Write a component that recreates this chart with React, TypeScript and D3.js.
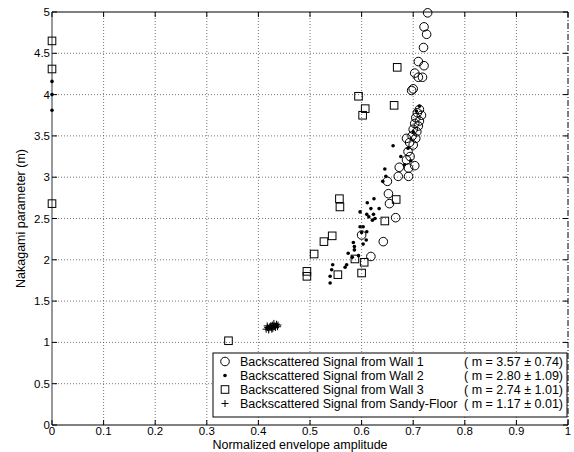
import React from "react";
import * as d3 from "d3";

const xTicks = [0, 0.1, 0.2, 0.3, 0.4, 0.5, 0.6, 0.7, 0.8, 0.9, 1];
const yTicks = [0, 0.5, 1, 1.5, 2, 2.5, 3, 3.5, 4, 4.5, 5];

const wall1: [number, number][] = [
  [0.728, 4.99], [0.721, 4.82], [0.726, 4.73], [0.72, 4.57], [0.71, 4.4], [0.721, 4.35],
  [0.703, 4.26], [0.71, 4.21], [0.718, 4.21], [0.7, 4.07], [0.697, 4.05],
  [0.712, 3.82], [0.716, 3.75], [0.708, 3.78], [0.705, 3.72], [0.712, 3.68], [0.703, 3.65],
  [0.71, 3.62], [0.7, 3.58], [0.707, 3.55], [0.698, 3.5], [0.705, 3.47], [0.687, 3.47],
  [0.7, 3.39], [0.693, 3.42], [0.69, 3.31], [0.694, 3.25], [0.687, 3.21], [0.703, 3.14],
  [0.673, 3.12], [0.691, 3.11], [0.671, 3.01], [0.691, 3.01], [0.65, 2.95], [0.652, 2.8],
  [0.654, 2.68], [0.666, 2.51], [0.642, 2.22], [0.6, 2.3], [0.618, 2.04],
];

const wall2: [number, number][] = [
  [0, 4.16], [0, 4.0], [0, 3.81], [0.712, 3.86], [0.706, 3.8], [0.7, 3.55], [0.661, 3.38],
  [0.676, 3.25], [0.645, 3.1], [0.647, 3.01], [0.641, 2.95], [0.624, 2.74], [0.611, 2.69],
  [0.618, 2.62], [0.634, 2.62], [0.597, 2.58], [0.61, 2.55], [0.623, 2.55], [0.614, 2.52],
  [0.626, 2.5], [0.621, 2.48], [0.603, 2.4], [0.597, 2.4], [0.61, 2.34], [0.6, 2.33],
  [0.609, 2.24], [0.603, 2.19], [0.584, 2.21], [0.586, 2.16], [0.586, 2.12], [0.574, 2.08],
  [0.594, 2.05], [0.582, 2.03], [0.571, 1.94], [0.568, 1.91], [0.544, 1.94], [0.542, 1.88],
  [0.539, 1.8], [0.539, 1.72], [0.69, 3.35], [0.695, 3.2], [0.683, 3.15],
];

const wall3: [number, number][] = [
  [0, 4.65], [0, 4.31], [0, 2.68], [0.669, 4.33], [0.594, 3.98], [0.663, 3.87], [0.607, 3.83],
  [0.602, 3.75], [0.557, 2.74], [0.558, 2.64], [0.667, 2.73], [0.645, 2.47], [0.543, 2.29],
  [0.527, 2.22], [0.508, 2.07], [0.494, 1.86], [0.494, 1.8], [0.554, 1.82], [0.6, 1.84],
  [0.605, 1.97], [0.587, 2.01], [0.342, 1.02],
];

const sandy: [number, number][] = [
  [0.415, 1.16], [0.418, 1.18], [0.42, 1.17], [0.422, 1.19], [0.424, 1.2], [0.425, 1.18],
  [0.427, 1.21], [0.428, 1.17], [0.43, 1.19], [0.432, 1.2], [0.433, 1.18], [0.435, 1.22],
  [0.437, 1.19], [0.42, 1.15], [0.426, 1.16], [0.43, 1.23], [0.438, 1.21], [0.417, 1.2],
];

const legendLabels = [
  "Backscattered Signal from Wall 1",
  "Backscattered Signal from Wall 2",
  "Backscattered Signal from Wall 3",
  "Backscattered Signal from Sandy-Floor",
];
const legendStats = [
  "( m = 3.57 \u00b1 0.74)",
  "( m = 2.80 \u00b1 1.09)",
  "( m = 2.74 \u00b1 1.01)",
  "( m = 1.17 \u00b1 0.01)",
];

const W = 574;
const H = 452;
const L = 52, R = 568, T = 12, B = 425;
const font = "'Liberation Sans', Arial, Helvetica, sans-serif";

function Marker({ kind, cx, cy }: { kind: number; cx: number; cy: number }) {
  if (kind === 0) return <circle cx={cx} cy={cy} r={4.3} fill="none" stroke="#000" strokeWidth={1} />;
  if (kind === 1) return <circle cx={cx} cy={cy} r={1.8} fill="#000" />;
  if (kind === 2) return <rect x={cx - 3.8} y={cy - 3.8} width={7.6} height={7.6} fill="none" stroke="#000" strokeWidth={1} />;
  return (
    <g stroke="#000" strokeWidth={1}>
      <line x1={cx - 3.5} x2={cx + 3.5} y1={cy} y2={cy} />
      <line x1={cx} x2={cx} y1={cy - 3.5} y2={cy + 3.5} />
    </g>
  );
}

export default function App() {
  const x = d3.scaleLinear().domain([0, 1]).range([L, R]);
  const y = d3.scaleLinear().domain([0, 5]).range([B, T]);
  const series = [wall1, wall2, wall3, sandy];
  const fmt = (v: number) => `${v}`;

  const legX = 213, legY = 353, legW = 354, legH = 64;
  const rowY = (i: number) => legY + 12.5 + i * 14;

  return (
    <svg width={W} height={H} style={{ position: "absolute", left: 0, top: 0, background: "#fff" }} fontFamily={font}>
      <rect x={0} y={0} width={W} height={H} fill="#fff" />
      {/* grid */}
      <g stroke="#555" strokeWidth={0.8} strokeDasharray="1 2">
        {xTicks.slice(1, -1).map((t) => (
          <line key={"gx" + t} x1={x(t)} x2={x(t)} y1={T} y2={B} />
        ))}
        {yTicks.slice(1, -1).map((t) => (
          <line key={"gy" + t} x1={L} x2={R} y1={y(t)} y2={y(t)} />
        ))}
      </g>
      {/* axes box */}
      <g fill="none" stroke="#000" strokeWidth={1}>
        <line x1={L} x2={R} y1={T} y2={T} />
        <line x1={R} x2={R} y1={T} y2={B} strokeDasharray="6 2 1 2" />
        <line x1={L} x2={L} y1={T} y2={B} stroke="#777" strokeWidth={1.5} />
        <line x1={L} x2={R} y1={B} y2={B} />
      </g>
      {/* ticks */}
      <g stroke="#000" strokeWidth={1}>
        {xTicks.map((t) => (
          <g key={"tx" + t}>
            <line x1={x(t)} x2={x(t)} y1={B} y2={B - 5} />
            <line x1={x(t)} x2={x(t)} y1={T} y2={T + 5} />
          </g>
        ))}
        {yTicks.map((t) => (
          <g key={"ty" + t}>
            <line x1={L} x2={L + 5} y1={y(t)} y2={y(t)} />
            <line x1={R} x2={R - 5} y1={y(t)} y2={y(t)} />
          </g>
        ))}
      </g>
      <g fontSize={11.5} fill="#000">
        {xTicks.map((t) => (
          <text key={"lx" + t} x={x(t)} y={B + 10} textAnchor="middle">{fmt(t)}</text>
        ))}
        {yTicks.map((t) => (
          <text key={"ly" + t} x={L - 2} y={y(t) + 4} textAnchor="end">{fmt(t)}</text>
        ))}
      </g>
      <text x={300} y={449} fontSize={12.5} textAnchor="middle" fill="#000">Normalized envelope amplitude</text>
      <text transform={`translate(25,${(T + B) / 2}) rotate(-90)`} fontSize={12.5} textAnchor="middle" fill="#000">Nakagami parameter (m)</text>
      {/* data */}
      {series.map((s, k) => (
        <g key={"s" + k}>
          {s.map((d, i) => (
            <Marker key={i} kind={k} cx={x(d[0])} cy={y(d[1])} />
          ))}
        </g>
      ))}
      {/* legend */}
      <rect x={legX} y={legY} width={legW} height={legH} fill="#fff" stroke="#000" strokeWidth={1} />
      {legendLabels.map((lab, i) => (
        <g key={"lg" + i}>
          <Marker kind={i} cx={225} cy={rowY(i) - 4} />
          <text x={240} y={rowY(i)} fontSize={12.5} fill="#000">{lab}</text>
          <text x={563} y={rowY(i)} fontSize={12.5} fill="#000" textAnchor="end">{legendStats[i]}</text>
        </g>
      ))}
    </svg>
  );
}
